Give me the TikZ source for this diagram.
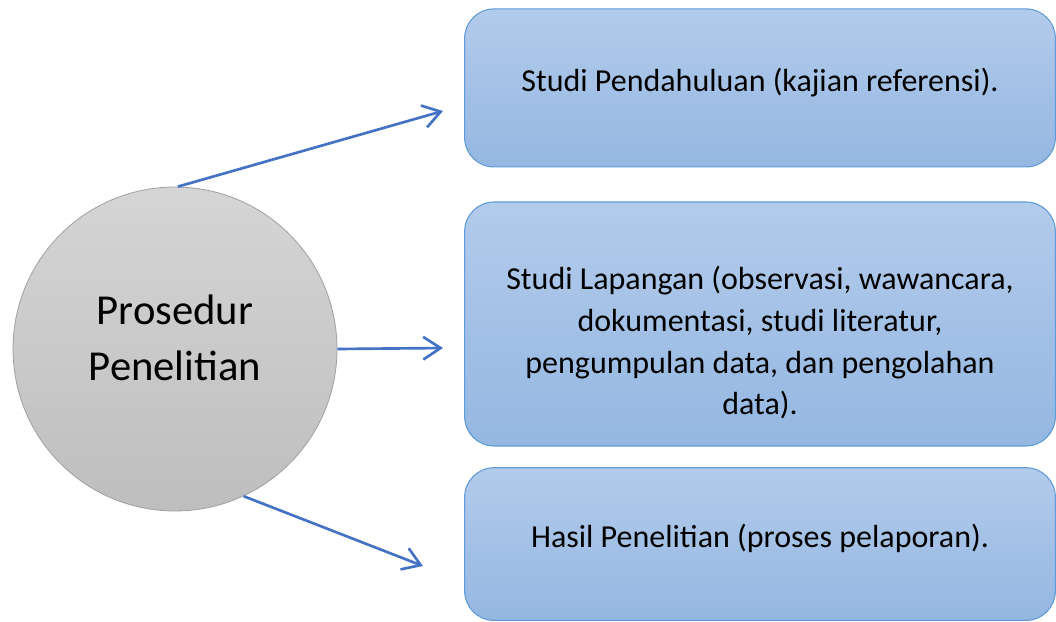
\documentclass[tikz,border=0pt]{standalone}
\usepackage{fontspec}
\setmainfont{Carlito}
\usetikzlibrary{positioning,arrows.meta}

\definecolor{boxtop}{RGB}{179,203,235}
\definecolor{boxbot}{RGB}{148,183,225}
\definecolor{boxline}{RGB}{95,155,215}
\definecolor{balltop}{RGB}{213,213,213}
\definecolor{ballbot}{RGB}{190,190,190}
\definecolor{ballline}{RGB}{160,160,160}
\definecolor{arrowblue}{RGB}{68,114,196}

\begin{document}
\begin{tikzpicture}[x=0.75pt,y=-0.75pt]
    \tikzstyle{main}=[circle, minimum size = 243pt, draw = ballline, line width=0.6pt, top color=balltop, bottom color=ballbot, align=center, text depth=17pt, font=\fontsize{32}{42}\selectfont]
    \tikzstyle{box}=[rectangle, rounded corners=22pt, draw = boxline, line width=0.8pt, top color=boxtop, bottom color=boxbot, minimum width=443pt, align=center, text depth=12pt, font=\fontsize{24}{31.3}\selectfont]
    \tikzstyle{connect}=[-{Straight Barb[length=13pt, width=17pt]}, line width=2pt, draw=arrowblue]
    \useasboundingbox (0,0) rectangle (1056,621);
      \node[main] (prosedur) at (175,349) {Prosedur\\Penelitian};
      % empty first line: the text sits low in this box
      \node[box, minimum height=183pt] (lapangan) at (760,324)
        {\\[23pt]Studi Lapangan (observasi, wawancara,\\dokumentasi, studi literatur,\\pengumpulan data, dan pengolahan\\data).};
      \node[box, minimum height=118.5pt] (pendahuluan) [above=25.5pt of lapangan] {Studi Pendahuluan (kajian referensi).};
      \node[box, minimum height=114.5pt] (hasil) [below=15.5pt of lapangan] {Hasil Penelitian (proses pelaporan).};
      \coordinate (tipa) at (443,111);
      \coordinate (tipb) at (443,348);
      \coordinate (tipc) at (423,566);
      \draw[connect] (prosedur.89) -- (tipa);
      \draw[connect] (prosedur.east) -- (tipb);
      \draw[connect] (prosedur.-65) -- (tipc);
\end{tikzpicture}
\end{document}
